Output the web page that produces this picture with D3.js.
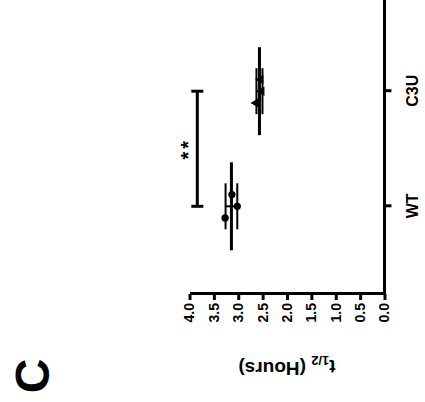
<!DOCTYPE html>
<html>
<head>
<meta charset="utf-8">
<script src="https://cdn.jsdelivr.net/npm/d3@7"></script>
<style>
  body { margin: 0; background: #fff; }
  svg text { font-family: Arial, "Liberation Sans", sans-serif; font-weight: bold; fill: #000; }
</style>
</head>
<body>
<div id="chart"></div>
<script>
// Groups along the category axis
var GROUPS = ['WT', 'C3U'];
// Individual t1/2 values (hours), left to right inside each group
var WT_POINTS = [3.27, 3.02, 3.13];
var C3U_POINTS = [2.635, 2.52, 2.54];
// Mean and SD drawn for each group
var MEANS = [3.14, 2.565];
var SDS = [0.12, 0.062];
// Value axis ticks
var YTICKS = [0, 0.5, 1, 1.5, 2, 2.5, 3, 3.5, 4];
// Significance bracket between WT and C3U
var SIG_Y = 3.84;
var SIG_LABEL = '**';
var PANEL = 'C';

var width = 425, height = 402;
// the whole panel is drawn upright, then turned 90deg counter-clockwise
var plotH = 195;

var svg = d3.select('#chart').append('svg')
  .attr('width', width)
  .attr('height', height);

var g = svg.append('g')
  .attr('transform', 'translate(189.5,294) rotate(-90)');

var y = d3.scaleLinear().domain([0, 4]).range([plotH, 0]);
var x = d3.scalePoint().domain(GROUPS).range([87.7, 202.8]);

// value axis
var yAxis = g.append('g')
  .call(d3.axisLeft(y)
    .tickValues(YTICKS)
    .tickFormat(d3.format('.1f'))
    .tickSize(6)
    .tickSizeOuter(0)
    .tickPadding(3));
yAxis.selectAll('text').style('font-size', '14px');

// category axis
var xAxis = g.append('g')
  .attr('transform', 'translate(0,' + plotH + ')')
  .call(d3.axisBottom(x).tickSize(7).tickPadding(15));
xAxis.select('.domain').remove();
xAxis.selectAll('text').style('font-size', '16px');
xAxis.append('line')
  .attr('x1', 0).attr('x2', 340)
  .attr('stroke', '#000');

g.selectAll('.domain, .tick line, g > line').attr('stroke-width', 3);

// data per group
var sets = [WT_POINTS, C3U_POINTS];
var markers = [d3.symbolCircle, d3.symbolTriangle];
var markerSize = [42, 40];

GROUPS.forEach(function(name, gi) {
  var cx = x(name);
  var m = MEANS[gi], s = SDS[gi];

  // points, spread left to right
  g.selectAll('.pt' + gi)
    .data(sets[gi])
    .enter().append('path')
      .attr('class', 'pt' + gi)
      .attr('d', d3.symbol().type(markers[gi]).size(markerSize[gi]))
      .attr('transform', function(d, i) {
        return 'translate(' + (cx + (i - 1) * 11.7) + ',' + y(d) + ')';
      })
      .attr('fill', '#000');

  // SD bar
  g.append('line')
    .attr('x1', cx).attr('x2', cx)
    .attr('y1', y(m - s)).attr('y2', y(m + s))
    .attr('stroke', '#000').attr('stroke-width', 2);
  [m - s, m + s].forEach(function(v) {
    g.append('line')
      .attr('x1', cx - 23).attr('x2', cx + 23)
      .attr('y1', y(v)).attr('y2', y(v))
      .attr('stroke', '#000').attr('stroke-width', 2);
  });

  // mean
  g.append('line')
    .attr('x1', cx - 44).attr('x2', cx + 44)
    .attr('y1', y(m)).attr('y2', y(m))
    .attr('stroke', '#000').attr('stroke-width', 3);
});

// significance bracket
var sy = y(SIG_Y);
g.append('line')
  .attr('x1', x('WT')).attr('x2', x('C3U'))
  .attr('y1', sy).attr('y2', sy)
  .attr('stroke', '#000').attr('stroke-width', 3);
GROUPS.forEach(function(name) {
  g.append('line')
    .attr('x1', x(name)).attr('x2', x(name))
    .attr('y1', sy - 6).attr('y2', sy + 6)
    .attr('stroke', '#000').attr('stroke-width', 3);
});
g.append('text')
  .attr('x', (x('WT') + x('C3U')) / 2)
  .attr('y', sy - 2)
  .attr('text-anchor', 'middle')
  .style('font-size', '20px')
  .style('letter-spacing', '3px')
  .text(SIG_LABEL);

// value axis title
var title = g.append('text')
  .attr('transform', 'translate(-73,' + y(2) + ') rotate(-90)')
  .attr('text-anchor', 'middle')
  .attr('dy', '0.35em')
  .style('font-size', '19px');
title.append('tspan').text('t');
title.append('tspan').attr('dy', '0.3em').style('font-size', '13px').text('1/2');
title.append('tspan').attr('dy', '-0.3em').text(' (Hours)');

// panel letter
g.append('text')
  .attr('x', -82).attr('y', -158)
  .attr('dy', '0.36em')
  .attr('text-anchor', 'middle')
  .style('font-size', '48px')
  .text(PANEL);
</script>
</body>
</html>
